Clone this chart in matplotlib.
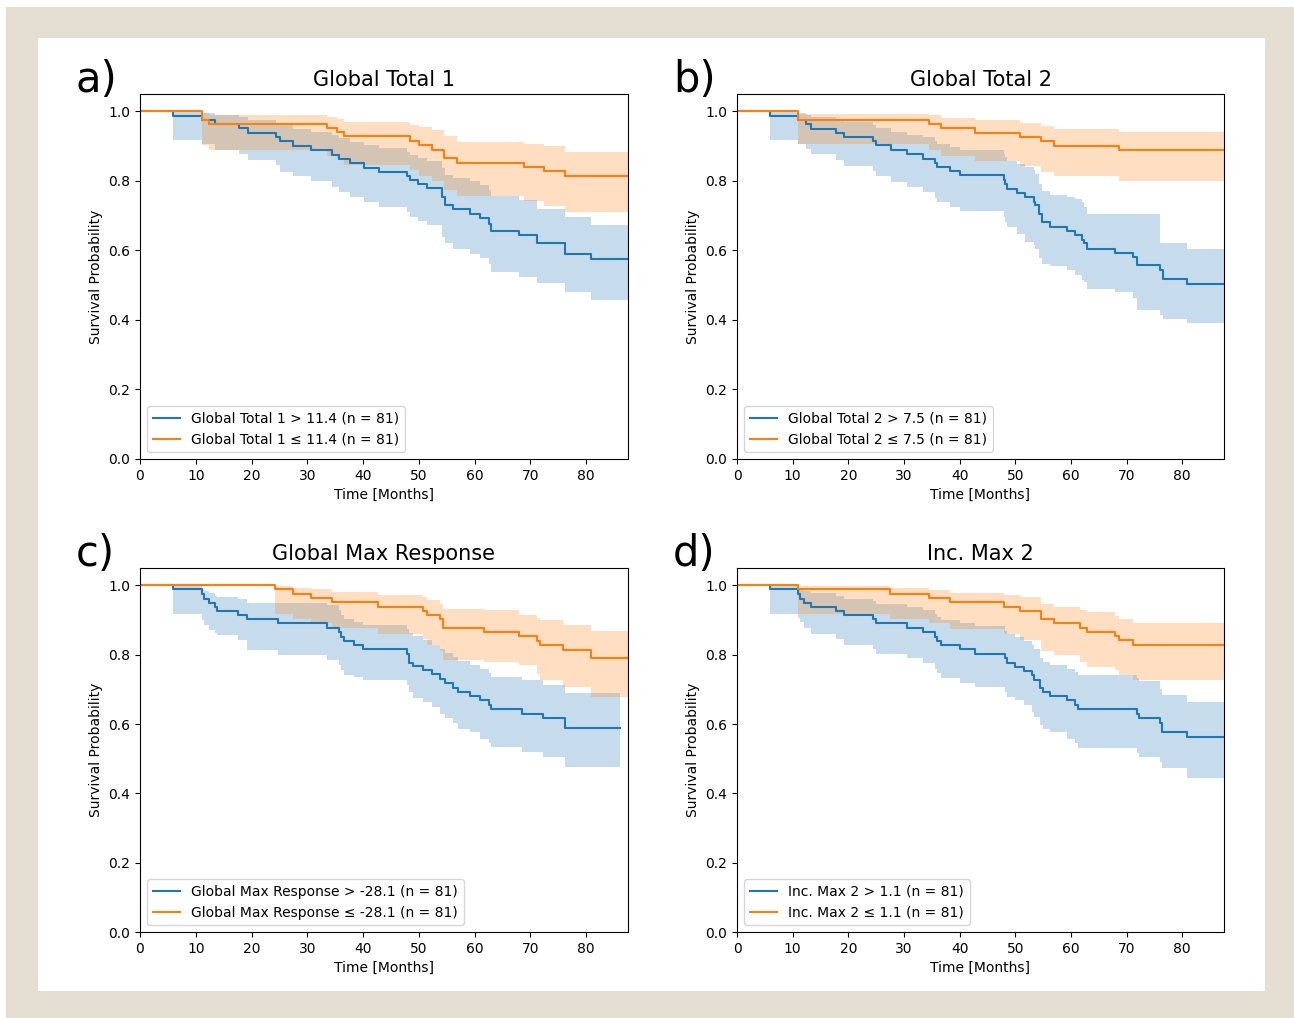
import matplotlib
matplotlib.use("Agg")
import matplotlib.pyplot as plt
from matplotlib.patches import Rectangle

BLUE = "#1f77b4"
ORANGE = "#ff7f0e"
X_END = 87.5

# ---------------- Panel a: Global Total 1 ----------------
a_title = "Global Total 1"
a_labels = ["Global Total 1 > 11.4 (n = 81)", "Global Total 1 \u2264 11.4 (n = 81)"]
a_hi_t = [0, 5.98, 11.05, 13.45, 17.7, 19.3, 24.3, 25.1, 27.5, 30.6, 34.35, 35.75, 37.65, 40.1, 42.8,
          47.8, 48.4, 49.9, 51.4, 54.15, 54.75, 56.2, 59.15, 60.95, 62.5, 62.9, 67.9, 71.1, 76.25, 80.85]
a_hi_s = [1.0, 0.988, 0.976, 0.963, 0.953, 0.939, 0.926, 0.914, 0.900, 0.888, 0.875, 0.864, 0.851, 0.838, 0.826,
          0.813, 0.802, 0.790, 0.779, 0.754, 0.730, 0.718, 0.706, 0.692, 0.677, 0.656, 0.644, 0.620, 0.591, 0.574]
a_hi_lo = [1.0, 0.917, 0.905, 0.890, 0.876, 0.861, 0.845, 0.826, 0.813, 0.800, 0.783, 0.768, 0.754, 0.740, 0.725,
           0.711, 0.696, 0.685, 0.672, 0.639, 0.620, 0.605, 0.591, 0.577, 0.562, 0.538, 0.524, 0.505, 0.481, 0.457]
a_hi_up = [1.0, 0.998, 0.994, 0.990, 0.984, 0.976, 0.968, 0.960, 0.950, 0.942, 0.932, 0.923, 0.913, 0.903, 0.894,
           0.884, 0.875, 0.866, 0.857, 0.838, 0.818, 0.808, 0.800, 0.788, 0.775, 0.757, 0.745, 0.720, 0.696, 0.674]
a_lo_t = [0, 11.05, 12.35, 33.45, 35.25, 36.65, 48.4, 50.1, 52.3, 54.45, 56.75, 68.8, 72.4, 76.25]
a_lo_s = [1.0, 0.976, 0.964, 0.953, 0.940, 0.928, 0.915, 0.902, 0.890, 0.866, 0.852, 0.840, 0.829, 0.813]
a_lo_lo = [1.0, 0.902, 0.890, 0.873, 0.859, 0.845, 0.830, 0.813, 0.800, 0.773, 0.756, 0.741, 0.727, 0.711]
a_lo_up = [1.0, 0.995, 0.989, 0.984, 0.979, 0.969, 0.962, 0.955, 0.946, 0.930, 0.912, 0.906, 0.900, 0.883]

# ---------------- Panel b: Global Total 2 ----------------
b_title = "Global Total 2"
b_labels = ["Global Total 2 > 7.5 (n = 81)", "Global Total 2 \u2264 7.5 (n = 81)"]
b_hi_t = [0, 5.93, 11.03, 12.4, 13.3, 17.8, 19.3, 24.4, 24.9, 27.6, 30.6, 33.5, 35.6, 36.0, 38.3, 40.1, 47.9,
          48.2, 48.5, 50.3, 51.8, 53.3, 53.6, 54.2, 54.8, 56.3, 59.3, 60.8, 62.0, 62.4, 62.9, 68.0, 71.2, 71.9,
          76.0, 76.5, 80.8]
b_hi_s = [1.0, 0.988, 0.976, 0.964, 0.950, 0.939, 0.926, 0.915, 0.902, 0.888, 0.876, 0.864, 0.852, 0.840, 0.829,
          0.816, 0.804, 0.790, 0.778, 0.765, 0.754, 0.740, 0.730, 0.706, 0.682, 0.668, 0.656, 0.644, 0.631, 0.620,
          0.605, 0.593, 0.582, 0.557, 0.543, 0.517, 0.502]
b_hi_lo = [1.0, 0.917, 0.907, 0.893, 0.878, 0.859, 0.842, 0.828, 0.813, 0.797, 0.783, 0.768, 0.752, 0.740, 0.725,
           0.714, 0.695, 0.682, 0.668, 0.648, 0.624, 0.615, 0.605, 0.577, 0.562, 0.555, 0.543, 0.530, 0.515, 0.510,
           0.490, 0.481, 0.462, 0.428, 0.415, 0.404, 0.390]
b_hi_up = [1.0, 0.998, 0.994, 0.990, 0.984, 0.977, 0.969, 0.961, 0.952, 0.942, 0.933, 0.925, 0.915, 0.906, 0.897,
           0.888, 0.878, 0.868, 0.858, 0.849, 0.840, 0.830, 0.820, 0.790, 0.770, 0.759, 0.755, 0.748, 0.740, 0.725,
           0.704, 0.704, 0.704, 0.704, 0.620, 0.620, 0.603]
b_lo_t = [0, 11.03, 34.5, 36.6, 42.8, 50.8, 54.6, 56.9, 68.7]
b_lo_s = [1.0, 0.976, 0.964, 0.952, 0.939, 0.926, 0.914, 0.901, 0.890]
b_lo_lo = [1.0, 0.905, 0.888, 0.873, 0.856, 0.842, 0.825, 0.813, 0.800]
b_lo_up = [1.0, 0.993, 0.989, 0.980, 0.974, 0.966, 0.957, 0.950, 0.941]

# ---------------- Panel c: Global Max Response ----------------
c_title = "Global Max Response"
c_labels = ["Global Max Response > -28.1 (n = 81)", "Global Max Response \u2264 -28.1 (n = 81)"]
c_hi_t = [0, 5.98, 11.06, 11.5, 12.4, 13.45, 13.8, 17.6, 19.25, 24.8, 33.5, 35.6, 36.0, 36.5, 38.3, 40.05,
          47.8, 48.2, 49.0, 50.8, 52.3, 53.8, 54.7, 56.2, 57.1, 59.2, 61.0, 62.5, 62.9, 68.5, 72.3, 76.2]
c_hi_s = [1.0, 0.988, 0.975, 0.962, 0.950, 0.938, 0.926, 0.914, 0.902, 0.890, 0.877, 0.866, 0.851, 0.839, 0.827,
          0.816, 0.803, 0.777, 0.768, 0.755, 0.743, 0.731, 0.717, 0.704, 0.693, 0.680, 0.669, 0.654, 0.643, 0.630,
          0.618, 0.589]
c_hi_lo = [1.0, 0.918, 0.900, 0.885, 0.870, 0.862, 0.856, 0.842, 0.813, 0.798, 0.784, 0.769, 0.755, 0.741, 0.735,
           0.727, 0.712, 0.693, 0.674, 0.664, 0.650, 0.630, 0.616, 0.602, 0.587, 0.578, 0.558, 0.545, 0.534, 0.519,
           0.505, 0.476]
c_hi_up = [1.0, 0.998, 0.990, 0.985, 0.978, 0.970, 0.965, 0.960, 0.950, 0.950, 0.942, 0.928, 0.914, 0.904, 0.895,
           0.885, 0.875, 0.862, 0.855, 0.841, 0.827, 0.815, 0.805, 0.793, 0.782, 0.770, 0.760, 0.748, 0.736, 0.726,
           0.712, 0.688]
c_hi_end = 86.1
c_lo_t = [0, 24.2, 27.5, 30.7, 34.4, 42.7, 50.8, 51.4, 53.8, 54.4, 61.6, 67.9, 71.2, 71.8, 75.9, 80.9]
c_lo_s = [1.0, 0.988, 0.976, 0.963, 0.952, 0.938, 0.927, 0.914, 0.904, 0.878, 0.866, 0.853, 0.839, 0.827, 0.813, 0.790]
c_lo_lo = [1.0, 0.918, 0.904, 0.892, 0.878, 0.861, 0.845, 0.827, 0.810, 0.784, 0.779, 0.770, 0.745, 0.726, 0.707, 0.678]
c_lo_up = [1.0, 0.998, 0.992, 0.988, 0.981, 0.973, 0.965, 0.959, 0.945, 0.933, 0.928, 0.914, 0.905, 0.899, 0.885, 0.868]

# ---------------- Panel d: Inc. Max 2 ----------------
d_title = "Inc. Max 2"
d_labels = ["Inc. Max 2 > 1.1 (n = 81)", "Inc. Max 2 \u2264 1.1 (n = 81)"]
d_hi_t = [0, 5.93, 11.03, 11.4, 12.0, 13.3, 17.8, 19.3, 24.4, 24.9, 30.6, 33.5, 35.6, 36.0, 36.6, 40.1, 42.8,
          48.2, 48.6, 50.0, 51.5, 53.0, 53.4, 54.5, 54.9, 56.3, 59.3, 60.8, 61.3, 71.9, 72.3, 76.0, 76.4, 80.8]
d_hi_s = [1.0, 0.988, 0.976, 0.962, 0.950, 0.938, 0.926, 0.914, 0.902, 0.890, 0.877, 0.866, 0.851, 0.839, 0.827,
          0.816, 0.803, 0.789, 0.777, 0.765, 0.752, 0.741, 0.726, 0.704, 0.693, 0.680, 0.669, 0.656, 0.643, 0.630,
          0.618, 0.602, 0.578, 0.563]
d_hi_lo = [1.0, 0.918, 0.905, 0.893, 0.877, 0.861, 0.846, 0.829, 0.815, 0.803, 0.789, 0.775, 0.760, 0.746, 0.732,
           0.717, 0.708, 0.693, 0.679, 0.669, 0.654, 0.635, 0.621, 0.597, 0.587, 0.578, 0.558, 0.545, 0.530, 0.515,
           0.505, 0.490, 0.472, 0.445]
d_hi_up = [1.0, 0.998, 0.993, 0.989, 0.984, 0.978, 0.970, 0.962, 0.955, 0.947, 0.938, 0.929, 0.918, 0.910, 0.900,
           0.892, 0.884, 0.868, 0.860, 0.850, 0.838, 0.827, 0.815, 0.790, 0.780, 0.769, 0.760, 0.750, 0.741, 0.732,
           0.725, 0.700, 0.683, 0.664]
d_lo_t = [0, 11.03, 27.5, 34.5, 38.3, 47.9, 50.8, 54.6, 56.9, 61.7, 62.9, 68.0, 68.7, 71.1]
d_lo_s = [1.0, 0.988, 0.976, 0.963, 0.952, 0.938, 0.926, 0.902, 0.890, 0.877, 0.866, 0.853, 0.841, 0.827]
d_lo_lo = [1.0, 0.918, 0.904, 0.890, 0.875, 0.861, 0.841, 0.812, 0.798, 0.780, 0.765, 0.755, 0.741, 0.726]
d_lo_up = [1.0, 0.998, 0.992, 0.986, 0.978, 0.973, 0.967, 0.945, 0.938, 0.930, 0.924, 0.912, 0.904, 0.892]

panels = [
    ("a)", a_title, a_labels, (a_hi_t, a_hi_s, a_hi_lo, a_hi_up, X_END), (a_lo_t, a_lo_s, a_lo_lo, a_lo_up, X_END)),
    ("b)", b_title, b_labels, (b_hi_t, b_hi_s, b_hi_lo, b_hi_up, X_END), (b_lo_t, b_lo_s, b_lo_lo, b_lo_up, X_END)),
    ("c)", c_title, c_labels, (c_hi_t, c_hi_s, c_hi_lo, c_hi_up, c_hi_end), (c_lo_t, c_lo_s, c_lo_lo, c_lo_up, X_END)),
    ("d)", d_title, d_labels, (d_hi_t, d_hi_s, d_hi_lo, d_hi_up, X_END), (d_lo_t, d_lo_s, d_lo_lo, d_lo_up, X_END)),
]

W, H = 1294, 1018
fig = plt.figure(figsize=(W / 100, H / 100), dpi=100)
fig.patch.set_facecolor("white")
# beige frame and white card
fig.patches.append(Rectangle((6 / W, 0), 1 - 6 / W, 1 - 7 / H, transform=fig.transFigure,
                             facecolor="#e5dfd3", edgecolor="none", zorder=-10))
fig.patches.append(Rectangle((38 / W, (H - 991) / H), (1265 - 38) / W, (991 - 38) / H,
                             transform=fig.transFigure, facecolor="white", edgecolor="none", zorder=-9))

# axes boxes in pixels: left, right, top, bottom
boxes = [(140, 628, 94, 459), (737, 1224, 94, 459), (140, 628, 568, 932), (737, 1224, 568, 932)]
letter_pos = [(76, 92), (673, 92), (76, 566), (673, 566)]


def draw_curve(ax, t, s, lo, up, tend, color, label):
    x = list(t) + [tend]
    ax.fill_between(x, list(lo) + [lo[-1]], list(up) + [up[-1]], step="post",
                    color=color, alpha=0.25, linewidth=0)
    ax.step(x, list(s) + [s[-1]], where="post", color=color, linewidth=1.5, label=label)


for (letter, title, labels, hi, lo), (l, r, t, b), (lx, ly) in zip(panels, boxes, letter_pos):
    ax = fig.add_axes([l / W, (H - b) / H, (r - l) / W, (b - t) / H])
    draw_curve(ax, *hi, BLUE, labels[0])
    draw_curve(ax, *lo, ORANGE, labels[1])
    ax.set_xlim(0, X_END)
    ax.set_ylim(0, 1.05)
    ax.set_xticks(range(0, 81, 10))
    ax.set_yticks([0.0, 0.2, 0.4, 0.6, 0.8, 1.0])
    ax.tick_params(labelsize=10)
    ax.set_title(title, fontsize=15)
    ax.set_xlabel("Time [Months]", fontsize=10)
    ax.set_ylabel("Survival Probability", fontsize=10)
    ax.legend(loc="lower left", fontsize=10)
    fig.text(lx / W, (H - ly) / H, letter, fontsize=30, ha="left", va="baseline")

fig.savefig("out.png", dpi=100)
